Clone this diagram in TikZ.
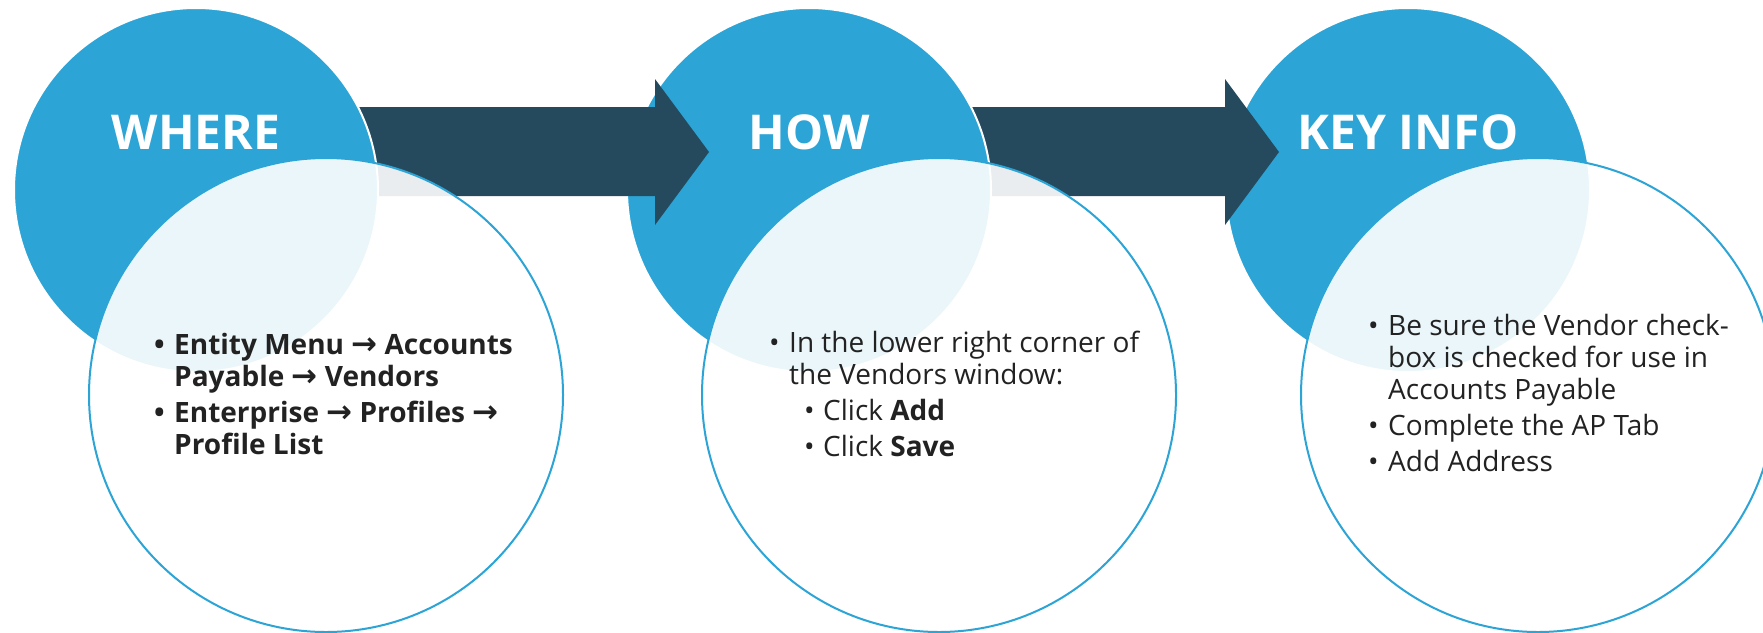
\documentclass[tikz,border=0pt]{standalone}
\usepackage{fontspec}
\setmainfont{Open Sans}
\newfontfamily\symfont{DejaVu Sans}
\usetikzlibrary{calc}
\definecolor{StageBlue}{HTML}{2CA4D6}
\definecolor{ArrowNavy}{HTML}{254A5E}
\definecolor{BodyInk}{HTML}{222222}

% bullets and the menu arrow
\newcommand{\goesto}{{\symfont\bfseries\fontsize{31}{32}\selectfont →}}
\newcommand{\itm}{\makebox[20pt][l]{\textbullet}}
\newcommand{\cont}{\hspace*{20pt}}
\newcommand{\subitm}{\hspace*{35pt}\makebox[19pt][l]{\textbullet}}

% block arrow from a circle centre to a tip coordinate
\newcommand{\flowarrow}[2]{%
  \fill[ArrowNavy] ($(#1)+(144,-83)$) -- ($(#2)+(-54,-45)$)
    -- ($(#2)+(-54,-73)$) -- (#2) -- ($(#2)+(-54,73)$) -- ($(#2)+(-54,44)$)
    -- ($(#1)+(144,6)$) -- cycle;}

\begin{document}
\begin{tikzpicture}[x=1pt, y=-1pt,
    stage/.style={circle, fill=StageBlue, draw=white, line width=2pt,
      minimum size=364pt, inner sep=0pt},
    card/.style={circle, fill=white, fill opacity=0.9, draw=StageBlue,
      draw opacity=1, line width=2pt, minimum size=474pt, inner sep=0pt},
    stagetitle/.style={text=white, font=\fontsize{48}{48}\selectfont\bfseries},
    steplist/.style={text=BodyInk, align=left, inner sep=0pt,
      font=\fontsize{28}{32}\selectfont}]
  \useasboundingbox (0,0) rectangle (1763,632);

  \coordinate (c1) at (196,190);
  \coordinate (c2) at (809,190);
  \coordinate (c3) at (1408,190);
  \coordinate (tip1) at (709,152);
  \coordinate (tip2) at (1279,152);

  % right to left, so every arrow tail hides behind its own circle
  \node[stage] (keyinfo) at (c3) {};
  \flowarrow{c2}{tip2}
  \node[stage] (how) at (c2) {};
  \flowarrow{c1}{tip1}
  \node[stage] (where) at (c1) {};

  % translucent cards
  \node[card] (wherecard) at (326,395) {};
  \node[card] (howcard) at (939,395) {};
  \node[card] (keycard) at (1538,395) {};

  \node[stagetitle] at ($(where.center)+(0,-58)$) {WHERE};
  \node[stagetitle] at ($(how.center)+(0,-58)$) {HOW};
  \node[stagetitle] at ($(keyinfo.center)+(0,-58)$) {KEY INFO};

  % lists are anchored on the baseline of their last line
  \node[steplist, anchor=base west, font=\fontsize{28}{32}\selectfont\bfseries]
    (wherelist) at ($(wherecard.center)+(-172,59)$)
    {\itm Entity Menu \goesto{} Accounts\\
     \cont Payable \goesto{} Vendors\\[4pt]
     \itm Enterprise \goesto{} Profiles \goesto\\
     \cont Profile List};
  \node[steplist, anchor=base west] (howlist) at ($(howcard.center)+(-170,61)$)
    {\itm In the lower right corner of\\
     \cont the Vendors window:\\[4pt]
     \subitm Click \textbf{Add}\\[4pt]
     \subitm Click \textbf{Save}};
  \node[steplist, anchor=base west] (keylist) at ($(keycard.center)+(-170,76)$)
    {\itm Be sure the Vendor check-\\
     \cont box is checked for use in\\
     \cont Accounts Payable\\[4pt]
     \itm Complete the AP Tab\\[4pt]
     \itm Add Address};
\end{tikzpicture}
\end{document}
